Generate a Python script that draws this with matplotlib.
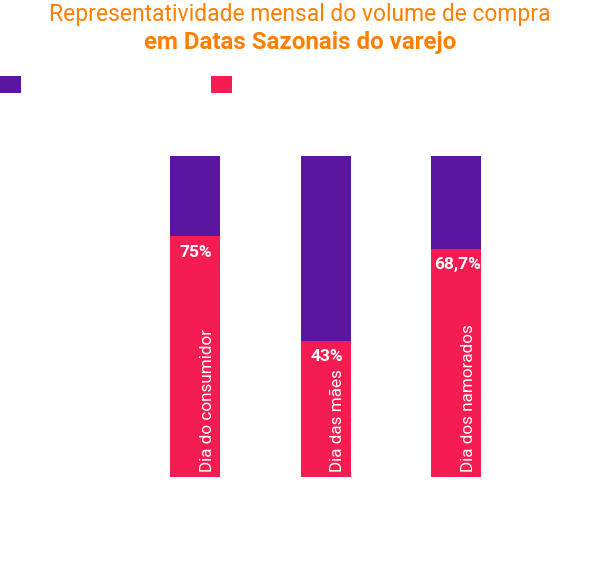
import matplotlib
matplotlib.use("Agg")
import matplotlib.pyplot as plt
from matplotlib.patches import Patch
import numpy as np

categories = ["Dia do consumidor", "Dia das mães", "Dia dos namorados"]
share_pct = [75.0, 42.5, 71.0]
share_labels = ["75%", "43%", "68,7%"]
rest_pct = [100 - v for v in share_pct]

purple = "#5A16A0"
pink = "#F41C50"
orange = "#FF7F00"

plt.rcParams['font.family'] = ['Roboto', 'DejaVu Sans']

fig = plt.figure(figsize=(6.0, 5.77), dpi=100)
ax = fig.add_axes([0, 1 - 477/577, 1, (477 - 156)/577])

x = np.arange(len(categories))
bw = 50 * 2 / 261
ax.bar(x, share_pct, width=bw, color=pink, linewidth=0)
ax.bar(x, rest_pct, bottom=share_pct, width=bw, color=purple, linewidth=0)

for xi, v, lab, cat in zip(x, share_pct, share_labels, categories):
    ax.text(xi + 0.01, v - 2.6, lab, ha='center', va='top', color='white',
            fontsize=12.5, fontweight='bold')
    ax.text(xi + 0.095, 1.5, cat, rotation=90, ha='center', va='bottom',
            color='white', fontsize=12.3)

ax.set_xlim(-195 * 2 / 261, (600 - 195) * 2 / 261)
ax.set_ylim(0, 100)
ax.axis('off')

fig.text(0.5, 1 - 15/577, "Representatividade mensal do volume de compra",
         ha='center', va='center', color=orange, fontsize=16.5, fontweight='normal')
fig.text(0.5, 1 - 43/577, "em Datas Sazonais do varejo",
         ha='center', va='center', color=orange, fontsize=17.4, fontweight='bold')

for col, xpos in [(purple, 0.0), (pink, 211/600)]:
    leg = fig.legend(handles=[Patch(facecolor=col, edgecolor='none')], labels=[""],
                     loc='upper left', bbox_to_anchor=(xpos, 1 - 76/577),
                     frameon=False, handlelength=1.5, handleheight=1.5,
                     borderpad=0, borderaxespad=0, handletextpad=0, fontsize=10)
    fig.add_artist(leg)

fig.savefig("out.png", dpi=100)
